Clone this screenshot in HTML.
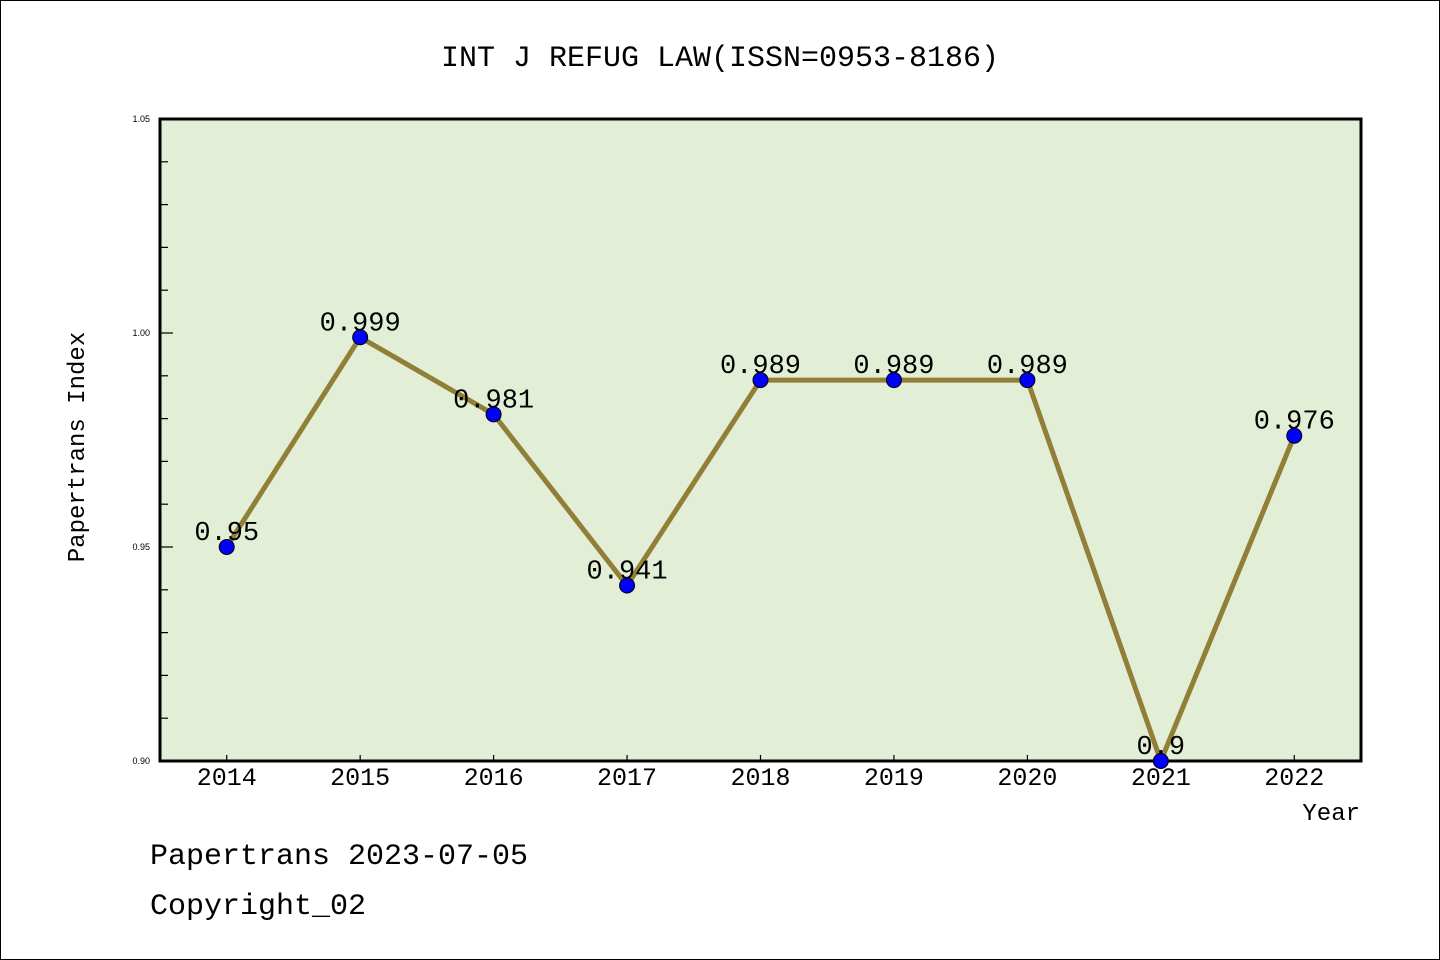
<!DOCTYPE html>
<html><head><meta charset="utf-8"><style>
body{margin:0;background:#fff}
svg{display:block}
text{font-family:"Liberation Mono","WenQuanYi Zen Hei",monospace;fill:#000}
text.sm{font-family:"Liberation Sans",sans-serif}
</style></head><body>
<svg id="chart" width="1440" height="960">
<rect x="0.5" y="0.5" width="1439" height="959" fill="#fff" stroke="#000"/>
<text x="720" y="66" font-size="30" text-anchor="middle">INT J REFUG LAW(ISSN=0953-8186)</text>
<rect x="160" y="119" width="1201" height="642" fill="#e2efd6"/>
<g id="grid"></g>
<g id="series"></g>
<rect x="160" y="119" width="1201" height="642" fill="none" stroke="#000" stroke-width="3"/>
<g id="marks"></g>
<text x="84" y="447" font-size="24" text-anchor="middle" transform="rotate(-90 84 447)">Papertrans Index</text>
<text x="1360" y="820" font-size="24" text-anchor="end">Year</text>
<text x="150" y="864" font-size="30">Papertrans 2023-07-05</text>
<text x="150" y="914" font-size="30">Copyright_02</text>
</svg>
<script>
const years = [2014,2015,2016,2017,2018,2019,2020,2021,2022];
const values = [0.95,0.999,0.981,0.941,0.989,0.989,0.989,0.9,0.976];
const labels = ["0.95","0.999","0.981","0.941","0.989","0.989","0.989","0.9","0.976"];
const yTicks = [0.90,0.95,1.00,1.05];
const yTickLabels = ["0.90","0.95","1.00","1.05"];
const NS="http://www.w3.org/2000/svg";
const X0=160,X1=1361,Y0=761,Y1=119;
const xs=v=>X0+(v-2013.5)/9*(X1-X0);
const ys=v=>Y0-(v-0.90)/0.15*(Y0-Y1);
function mk(tag,attrs,parent){const e=document.createElementNS(NS,tag);for(const k in attrs)e.setAttribute(k,attrs[k]);document.getElementById(parent).appendChild(e);return e;}
for(let i=0;i<=15;i++){
  const v=0.90+i*0.01, y=ys(v), major=i%5===0;
  const t=mk('line',{x1:X0,x2:X0+(major?13:8),y1:y,y2:y,stroke:'#000','stroke-width':1.2},'grid');
  
  
}
yTicks.forEach((v,i)=>{
  const t=mk('text',{x:X0-10,y:ys(v)+3,'font-size':9,'text-anchor':'end','class':'sm'},'grid');
  t.textContent=yTickLabels[i];
  
  
});
years.forEach(yr=>{
  const x=xs(yr);
  const t=mk('line',{x1:x,x2:x,y1:Y0,y2:Y0-6,stroke:'#000','stroke-width':1.2},'grid');
  
  
  const l=mk('text',{x:x,y:Y0+24,'font-size':25,'text-anchor':'middle'},'marks');
  l.textContent=yr;
  
  
});
const pl=mk('polyline',{points:years.map((y,i)=>xs(y)+','+ys(values[i])).join(' '),fill:'none',stroke:'#917f37','stroke-width':5,'stroke-linejoin':'miter'},'series');


years.forEach((yr,i)=>{
  const c=mk('circle',{cx:xs(yr),cy:ys(values[i]),r:7.5,fill:'#0000ff',stroke:'#000','stroke-width':1},'marks');
  
  
  const t=mk('text',{x:xs(yr),y:ys(values[i])-7,'font-size':27,'text-anchor':'middle'},'marks');
  t.textContent=labels[i];
  
  
});
</script>
</body></html>
